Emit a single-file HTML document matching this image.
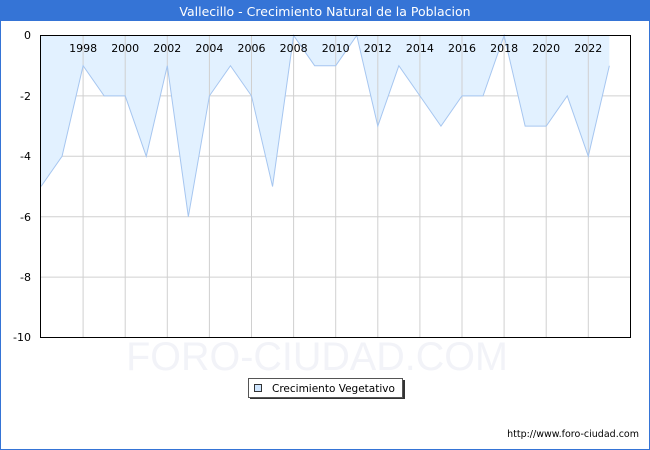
<!DOCTYPE html>
<html><head><meta charset="utf-8"><style>
html,body{margin:0;padding:0;background:#fff;}
svg{display:block;font-family:"DejaVu Sans","Liberation Sans",sans-serif;}
</style></head><body>
<svg width="650" height="450" viewBox="0 0 650 450" xmlns="http://www.w3.org/2000/svg">
<rect x="0" y="0" width="650" height="450" fill="#fff"/>
<rect x="0.5" y="0.5" width="649" height="449" fill="none" stroke="#3574d6" stroke-width="1"/>
<rect x="0" y="0" width="650" height="21" fill="#3574d6"/>
<text x="325" y="16" text-anchor="middle" font-size="12.5" fill="#fff">Vallecillo - Crecimiento Natural de la Poblacion</text>

<text x="317" y="370" text-anchor="middle" font-size="39.5" fill="#f2f3f8" font-family="Liberation Sans, sans-serif">FORO-CIUDAD.COM</text>

<!-- grid -->
<g stroke="#d0d0d0" stroke-width="1">
<line x1="41" y1="95.9" x2="630" y2="95.9"/>
<line x1="41" y1="156.3" x2="630" y2="156.3"/>
<line x1="41" y1="216.7" x2="630" y2="216.7"/>
<line x1="41" y1="277.1" x2="630" y2="277.1"/>
</g>
<!-- fill -->
<polygon fill="#e2f1ff" points="41,35.5 41,186.5 62.05,156.3 83.1,65.7 104.15,95.9 125.2,95.9 146.25,156.3 167.3,65.7 188.35,216.7 209.4,95.9 230.45,65.7 251.5,95.9 272.55,186.5 293.6,35.5 314.65,65.7 335.7,65.7 356.75,35.5 377.8,126.1 398.85,65.7 419.9,95.9 440.95,126.1 462,95.9 483.05,95.9 504.1,35.5 525.15,126.1 546.2,126.1 567.25,95.9 588.3,156.3 609.35,65.7 609.35,35.5"/>
<g stroke="#d0d0d0" stroke-width="1">
<line x1="83.1" y1="35" x2="83.1" y2="337"/>
<line x1="125.2" y1="35" x2="125.2" y2="337"/>
<line x1="167.3" y1="35" x2="167.3" y2="337"/>
<line x1="209.4" y1="35" x2="209.4" y2="337"/>
<line x1="251.5" y1="35" x2="251.5" y2="337"/>
<line x1="293.6" y1="35" x2="293.6" y2="337"/>
<line x1="335.7" y1="35" x2="335.7" y2="337"/>
<line x1="377.8" y1="35" x2="377.8" y2="337"/>
<line x1="419.9" y1="35" x2="419.9" y2="337"/>
<line x1="462" y1="35" x2="462" y2="337"/>
<line x1="504.1" y1="35" x2="504.1" y2="337"/>
<line x1="546.2" y1="35" x2="546.2" y2="337"/>
<line x1="588.3" y1="35" x2="588.3" y2="337"/>
</g>
<polyline fill="none" stroke="#a6c6f0" stroke-width="1" points="41,186.5 62.05,156.3 83.1,65.7 104.15,95.9 125.2,95.9 146.25,156.3 167.3,65.7 188.35,216.7 209.4,95.9 230.45,65.7 251.5,95.9 272.55,186.5 293.6,35.5 314.65,65.7 335.7,65.7 356.75,35.5 377.8,126.1 398.85,65.7 419.9,95.9 440.95,126.1 462,95.9 483.05,95.9 504.1,35.5 525.15,126.1 546.2,126.1 567.25,95.9 588.3,156.3 609.35,65.7"/>
<rect x="40.5" y="35.5" width="590" height="302" fill="none" stroke="#000" stroke-width="1"/>

<g font-size="11" fill="#000" text-anchor="middle">
<text x="83.1" y="52">1998</text>
<text x="125.2" y="52">2000</text>
<text x="167.3" y="52">2002</text>
<text x="209.4" y="52">2004</text>
<text x="251.5" y="52">2006</text>
<text x="293.6" y="52">2008</text>
<text x="335.7" y="52">2010</text>
<text x="377.8" y="52">2012</text>
<text x="419.9" y="52">2014</text>
<text x="462" y="52">2016</text>
<text x="504.1" y="52">2018</text>
<text x="546.2" y="52">2020</text>
<text x="588.3" y="52">2022</text>
</g>
<g font-size="11" fill="#000" text-anchor="end">
<text x="31" y="39">0</text>
<text x="31" y="100">-2</text>
<text x="31" y="160">-4</text>
<text x="31" y="221">-6</text>
<text x="31" y="281">-8</text>
<text x="31" y="341">-10</text>
</g>

<!-- legend -->
<rect x="250" y="380" width="155" height="19" fill="#333"/>
<rect x="248.5" y="378.5" width="154" height="19" fill="#fff" stroke="#555" stroke-width="1"/>
<rect x="254.5" y="384.5" width="7" height="7" fill="#cfe6ff" stroke="#333" stroke-width="1"/>
<text x="272" y="392" font-size="10.5" fill="#000">Crecimiento Vegetativo</text>

<text x="639" y="437" text-anchor="end" font-size="9.5" fill="#000">http://www.foro-ciudad.com</text>
</svg>
</body></html>
